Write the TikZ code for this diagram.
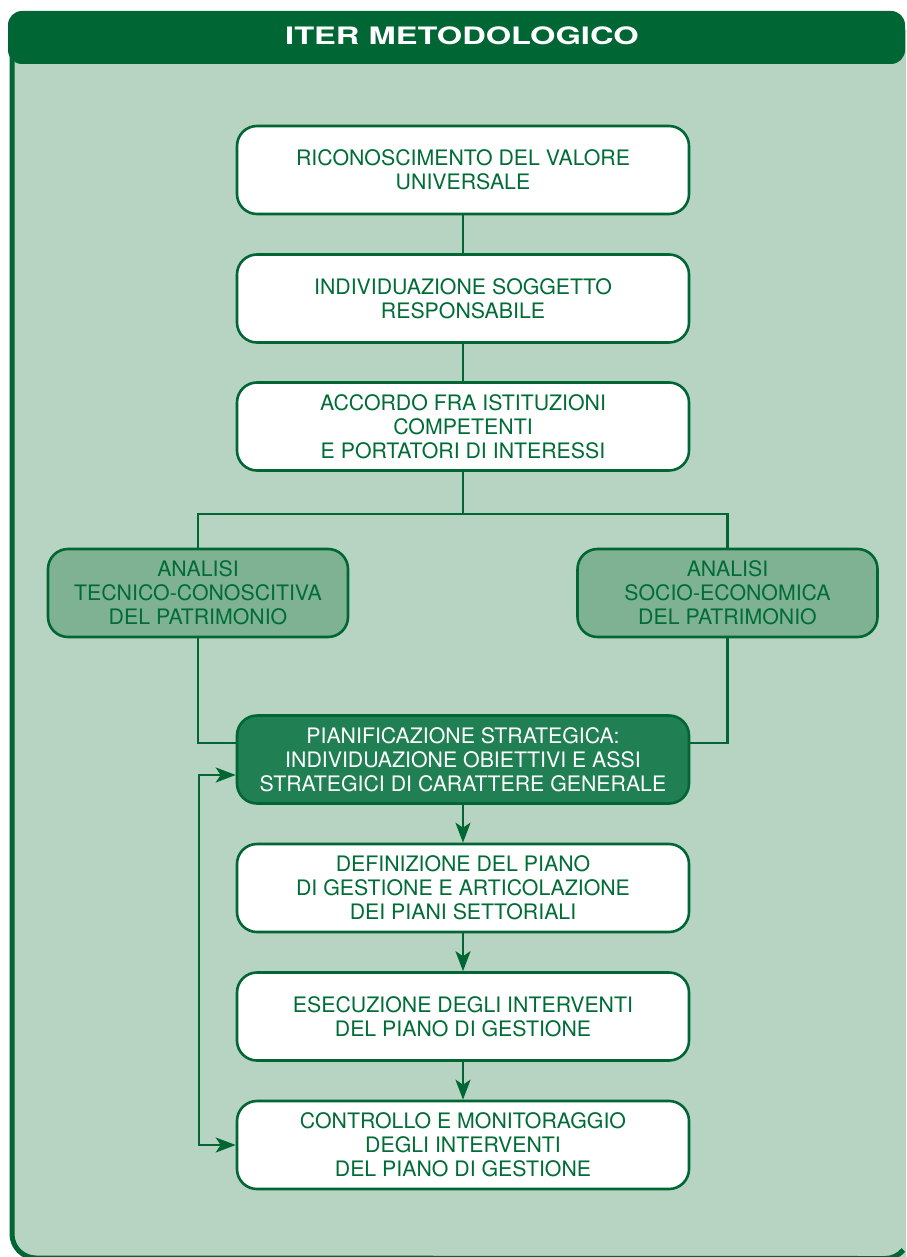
\documentclass[tikz,border=0pt]{standalone}
\usepackage{fontspec}
\usepackage{graphicx}
\setmainfont{TeX Gyre Heros}
\usetikzlibrary{arrows.meta,calc}

\definecolor{dkgreen}{RGB}{0,102,51}
\definecolor{bodygreen}{RGB}{183,211,193}
\definecolor{midgreen}{RGB}{127,178,146}
\definecolor{stratgreen}{RGB}{32,128,84}
\definecolor{txtgreen}{RGB}{0,108,54}

\tikzset{
  stepbox/.style={draw=dkgreen, line width=2.6pt, rounded corners=20pt,
    minimum width=452pt, minimum height=88pt, inner sep=0pt, align=center,
    fill=white, text=txtgreen, font=\fontsize{21.3}{24}\selectfont},
  analysisbox/.style={stepbox, minimum width=300pt, fill=midgreen},
  strategybox/.style={stepbox, fill=stratgreen, text=white},
  link/.style={draw=dkgreen, line width=2.6pt},
  flow/.style={link, -{Stealth[length=20pt,width=15pt,inset=5pt]}},
  backflow/.style={link, {Stealth[length=20pt,width=15pt,inset=5pt]}-{Stealth[length=20pt,width=15pt,inset=5pt]}}
}

\begin{document}
\begin{tikzpicture}[x=1pt,y=-1pt]
\useasboundingbox (0,0) rectangle (906,1257);
\fill[white] (0,0) rectangle (906,1257);

% outer panel: light body, left and bottom rim, dark title bar
\begin{scope}
  \clip (0,0) rectangle (906,1257);
  \fill[bodygreen] (12,30) -- (12,1234) arc[start angle=180, end angle=90, radius=24]
    -- (906,1258) -- (906,30) -- cycle;
  \draw[dkgreen, line width=5pt] (12,30) -- (12,1234)
    arc[start angle=180, end angle=90, radius=24] -- (885,1258.5)
    arc[start angle=90, end angle=40, radius=24];
  \fill[dkgreen, rounded corners=14pt] (8,11) rectangle (905,64);
\end{scope}
\node[anchor=base, text=white, inner sep=0pt,
      font=\fontsize{24}{28}\selectfont\bfseries] (title) at (462,45)
  {\scalebox{1.36}[1]{ITER METODOLOGICO}};

% steps
\node[stepbox] (b1) at (463,170) {RICONOSCIMENTO DEL VALORE\\UNIVERSALE};
\node[stepbox] (b2) at (463,298.5) {INDIVIDUAZIONE SOGGETTO\\RESPONSABILE};
\node[stepbox] (b3) at (463,426.5) {ACCORDO FRA ISTITUZIONI\\COMPETENTI\\E PORTATORI DI INTERESSI};
\node[analysisbox] (a1) at (198,593) {ANALISI\\TECNICO-CONOSCITIVA\\DEL PATRIMONIO};
\node[analysisbox] (a2) at (727.5,593) {ANALISI\\SOCIO-ECONOMICA\\DEL PATRIMONIO};
\node[strategybox] (st) at (463,759.5) {PIANIFICAZIONE STRATEGICA:\\INDIVIDUAZIONE OBIETTIVI E ASSI\\STRATEGICI DI CARATTERE GENERALE};
\node[stepbox] (b7) at (463,888) {DEFINIZIONE DEL PIANO\\DI GESTIONE E ARTICOLAZIONE\\DEI PIANI SETTORIALI};
\node[stepbox] (b8) at (463,1016.5) {ESECUZIONE DEGLI INTERVENTI\\DEL PIANO DI GESTIONE};
\node[stepbox] (b9) at (463,1145) {CONTROLLO E MONITORAGGIO\\DEGLI INTERVENTI\\DEL PIANO DI GESTIONE};

% connectors
\draw[link] (b1) -- (b2);
\draw[link] (b2) -- (b3);
\draw[link] (b3.south) -- ++(0,42) coordinate (split);
\draw[link] (a1.north) |- (split) -| (a2.north);
\coordinate (stl) at ($(st.west)+(0,-16.5)$);
\coordinate (str) at ($(st.east)+(0,-16.5)$);
\draw[link] (a1.south) |- (stl);
\draw[link] (a2.south) |- (str);
\draw[flow] (st) -- (b7);
\draw[flow] (b7) -- (b8);
\draw[flow] (b8) -- (b9);
\coordinate (fbin) at ($(st.west)+(0,15.5)$);
\coordinate (fbtop) at (199,775);
\draw[backflow] (b9.west) -| (fbtop) -- (fbin);
\end{tikzpicture}
\end{document}
